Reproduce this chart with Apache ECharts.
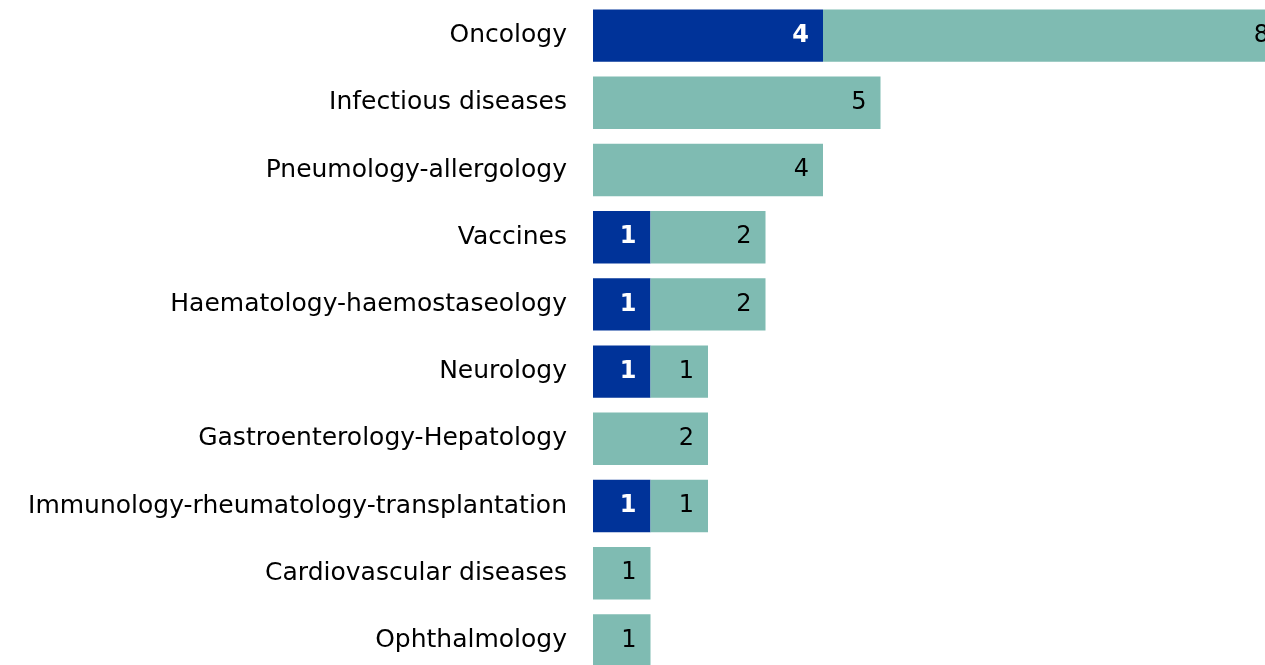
<!DOCTYPE html>
<html>
<head>
<meta charset="utf-8">
<script src="https://cdn.jsdelivr.net/npm/echarts@6/dist/echarts.min.js"></script>
<style>
  html, body { margin: 0; padding: 0; background: #fff; overflow: hidden; }
  #chart-container { width: 1283px; height: 676px; }
</style>
</head>
<body>
<div id="chart-container"></div>
<script>
// Categories, top to bottom
const categories = [
    'Oncology',
    'Infectious diseases',
    'Pneumology-allergology',
    'Vaccines',
    'Haematology-haemostaseology',
    'Neurology',
    'Gastroenterology-Hepatology',
    'Immunology-rheumatology-transplantation',
    'Cardiovascular diseases',
    'Ophthalmology'
];
// Dark blue segment
const darkValues = [4, 0, 0, 1, 1, 1, 0, 1, 0, 0];
// Teal segment
const tealValues = [8, 5, 4, 2, 2, 1, 2, 1, 1, 1];

const chartDom = document.getElementById('chart-container');
const myChart = echarts.init(chartDom);

const fontFamily = 'Verdana, "DejaVu Sans", sans-serif';

const option = {
    animation: false,
    grid: { left: 593, right: 0, top: 2, bottom: 2, containLabel: false },
    xAxis: {
        type: 'value',
        min: 0,
        max: 12,
        show: false
    },
    yAxis: {
        type: 'category',
        inverse: true,
        data: categories,
        axisLine: { show: false },
        axisTick: { show: false },
        axisLabel: {
            margin: 26,
            color: '#000',
            fontSize: 25,
            fontFamily: fontFamily
        }
    },
    series: [{
        name: 'dark',
        type: 'bar',
        stack: 'total',
        barCategoryGap: '22%',
        data: darkValues,
        itemStyle: { color: '#003399' },
        label: {
            show: true,
            position: 'insideRight',
            distance: 14,
            color: '#fff',
            fontWeight: 'bold',
            fontSize: 24,
            fontFamily: fontFamily,
            formatter: p => p.value ? p.value : ''
        }
    }, {
        name: 'teal',
        type: 'bar',
        stack: 'total',
        data: tealValues,
        itemStyle: { color: '#7fbbb2' },
        label: {
            show: true,
            position: 'insideRight',
            distance: 14,
            color: '#000',
            fontSize: 24,
            fontFamily: fontFamily
        }
    }]
};

myChart.setOption(option);
</script>
</body>
</html>
